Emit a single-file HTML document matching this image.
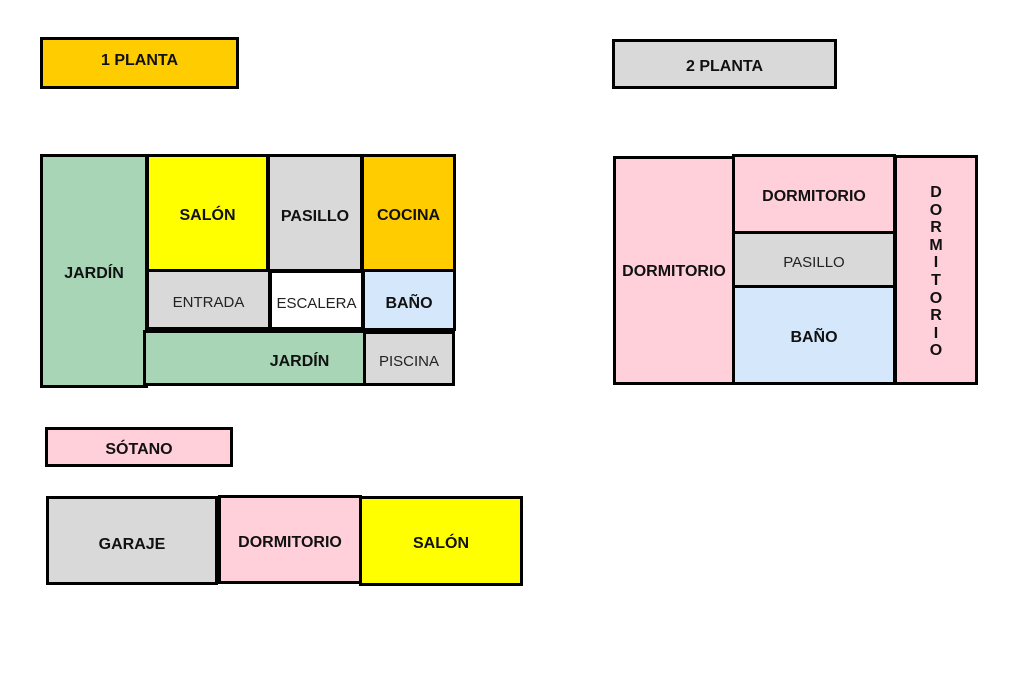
<!DOCTYPE html>
<html><head><meta charset="utf-8"><style>
body{margin:0;width:1024px;height:682px;background:#fff;position:relative;overflow:hidden;font-family:"Liberation Sans",Arial,sans-serif;}
.b{position:absolute;box-sizing:border-box;border:3px solid #000;display:flex;align-items:center;justify-content:center;font-size:16px;font-weight:bold;color:#111;text-align:center;padding-top:6px;}
.l{font-weight:normal;font-size:15px;color:#222;}
.g{background:#a8d5b5}.y{background:#ffff00}.gr{background:#d9d9d9}.o{background:#ffcc00}.bl{background:#d5e8fb}.p{background:#ffd0da}.w{background:#fff}
</style></head><body>
<div class="b o" style="left:40px;top:37px;width:199px;height:52px;padding-top:0;padding-bottom:4px">1 PLANTA</div>
<div class="b gr" style="left:612px;top:39px;width:225px;height:50px;">2 PLANTA</div>

<div class="b g" style="left:40px;top:154px;width:108px;height:234px;">JARDÍN</div>
<div class="b y" style="left:146px;top:154px;width:123px;height:118px;">SALÓN</div>
<div class="b gr" style="left:267px;top:154px;width:96px;height:118px;padding-top:8px">PASILLO</div>
<div class="b o" style="left:361px;top:154px;width:95px;height:118px;">COCINA</div>
<div class="b gr l" style="left:146px;top:269px;width:125px;height:61px;">ENTRADA</div>
<div class="b w l" style="left:269px;top:270px;width:95px;height:60px;">ESCALERA</div>
<div class="b bl" style="left:362px;top:269px;width:94px;height:62px;padding-top:8px">BAÑO</div>
<div class="b g" style="left:143px;top:330px;width:223px;height:56px;padding-left:90px;padding-top:8px">JARDÍN</div>
<div class="b gr l" style="left:363px;top:331px;width:92px;height:55px;">PISCINA</div>

<div class="b p" style="left:613px;top:156px;width:122px;height:229px;padding-top:3px">DORMITORIO</div>
<div class="b p" style="left:732px;top:154px;width:164px;height:80px;">DORMITORIO</div>
<div class="b gr l" style="left:732px;top:231px;width:164px;height:57px;">PASILLO</div>
<div class="b bl" style="left:732px;top:285px;width:164px;height:100px;">BAÑO</div>
<div class="b p" style="left:894px;top:155px;width:84px;height:230px;line-height:17.6px;font-size:16px;padding-top:4px">D<br>O<br>R<br>M<br>I<br>T<br>O<br>R<br>I<br>O</div>

<div class="b p" style="left:45px;top:427px;width:188px;height:40px;">SÓTANO</div>
<div class="b gr" style="left:46px;top:496px;width:172px;height:89px;padding-top:8px">GARAJE</div>
<div class="b p" style="left:218px;top:495px;width:144px;height:89px;">DORMITORIO</div>
<div class="b y" style="left:359px;top:496px;width:164px;height:90px;">SALÓN</div>
</body></html>
